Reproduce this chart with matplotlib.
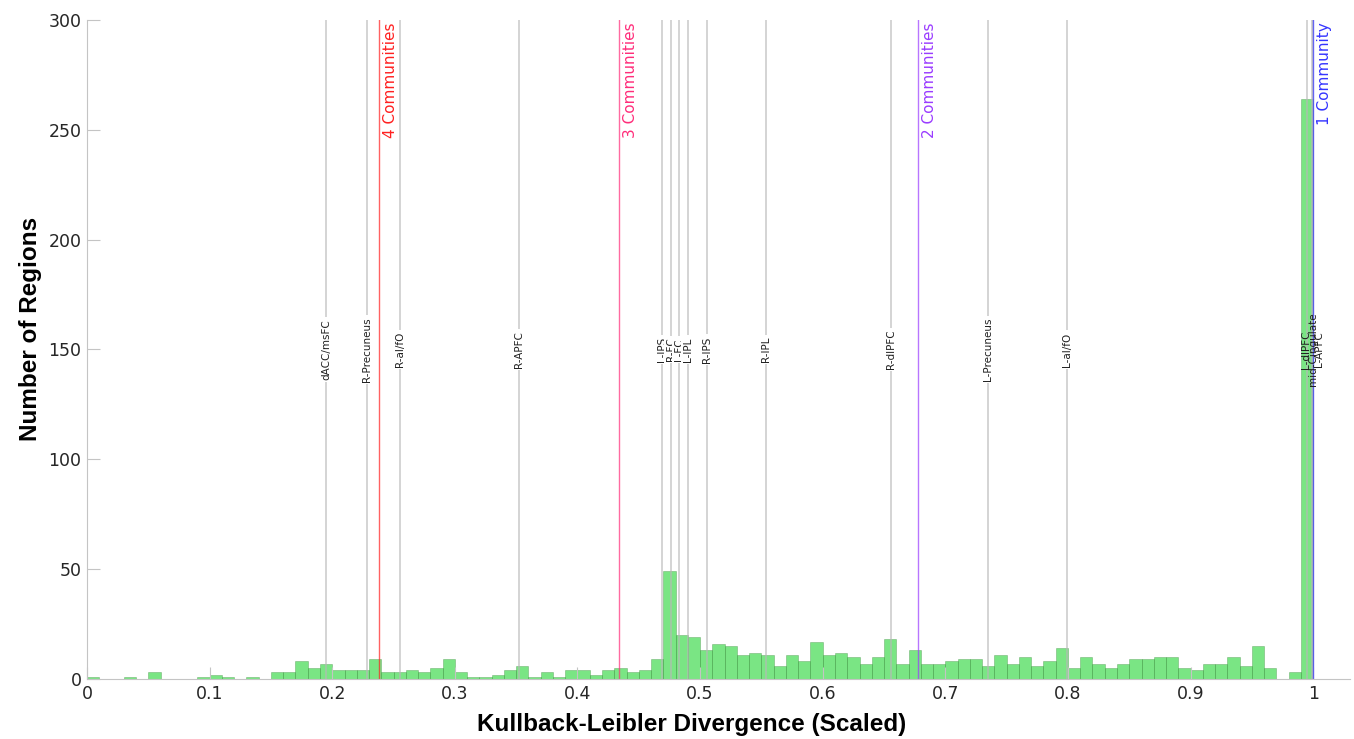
import numpy as np
import matplotlib.pyplot as plt

# histogram counts, one per 0.01-wide bin from 0 to 1
counts = [1, 0, 0, 1, 0, 3, 0, 0, 0, 1,
          2, 1, 0, 1, 0, 3, 3, 8, 5, 7,
          4, 4, 4, 9, 3, 3, 4, 3, 5, 9,
          3, 1, 1, 2, 4, 6, 1, 3, 1, 4,
          4, 2, 4, 5, 3, 4, 9, 49, 20, 19,
          13, 16, 15, 11, 12, 11, 6, 11, 8, 17,
          11, 12, 10, 7, 10, 18, 7, 13, 7, 7,
          8, 9, 9, 6, 11, 7, 10, 6, 8, 14,
          5, 10, 7, 5, 7, 9, 9, 10, 10, 5,
          4, 7, 7, 10, 6, 15, 5, 0, 3, 264]
bin_edges = np.linspace(0, 1, 101)

region_names = ['dACC/msFC', 'R-Precuneus', 'R-aI/fO', 'R-APFC', 'L-IPS', 'R-FC',
                'L-FC', 'L-IPL', 'R-IPS', 'R-IPL', 'R-dlPFC', 'L-Precuneus',
                'L-aI/fO', 'L-dlPFC', 'mid-Cingulate', 'L-APFC']
region_kl = [0.195, 0.228, 0.255, 0.352, 0.469, 0.476,
             0.4825, 0.49, 0.506, 0.554, 0.656, 0.735,
             0.7995, 0.995, 0.999, 1.0]
# label offsets for the crowded ones near 1
label_shift = [0, 0, 0, 0, 0, 0, 0, 0, 0, 0, 0, 0, 0, -0.0005, 0.0005, 0.0045]

community_names = ['4 Communities', '3 Communities', '2 Communities', '1 Community']
community_kl = [0.238, 0.434, 0.678, 1.0]
community_colors = ['#ff2020', '#ff2d7a', '#9a3cff', '#3535ff']

fig = plt.figure(figsize=(13.54, 7.39), dpi=100)
ax = fig.add_axes([0.0643, 0.0812, 0.9327, 0.8918])

ax.bar(bin_edges[:-1], counts, width=0.01, align='edge',
       color=(0.05, 0.82, 0.12), alpha=0.55, edgecolor=(0.2, 0.5, 0.2), linewidth=0.4, zorder=1)

for name, x, dx in zip(region_names, region_kl, label_shift):
    ax.axvline(x, color='#b8b8b8', linewidth=1.2, alpha=0.7, zorder=2)
    box = None
    if x < 0.98:
        box = dict(facecolor='white', edgecolor='none', pad=1.5)
    ax.text(x + dx, 150, name, rotation=90, ha='center', va='center', fontsize=7.5,
            color='#202020', bbox=box, zorder=3)

for name, x, c in zip(community_names, community_kl, community_colors):
    ax.axvline(x, color=c, linewidth=1.0, alpha=0.7, zorder=2)
    ax.text(x + 0.003, 299, name, rotation=90, ha='left', va='top', fontsize=11, color=c, zorder=3)

ax.set_xlim(0, 1.03)
ax.set_ylim(0, 300)
ax.set_xticks(np.arange(0, 1.01, 0.1))
ax.set_xticklabels(['0', '0.1', '0.2', '0.3', '0.4', '0.5', '0.6', '0.7', '0.8', '0.9', '1'])
ax.set_yticks([0, 50, 100, 150, 200, 250, 300])

for s in ['top', 'right']:
    ax.spines[s].set_visible(False)
for s in ['left', 'bottom']:
    ax.spines[s].set_color('#c4c4c4')
ax.tick_params(direction='in', length=9, width=0.8, color='#c4c4c4', labelsize=12.5,
               labelcolor='#262626', pad=4)

ax.set_xlabel('Kullback-Leibler Divergence (Scaled)', fontsize=17.5, fontweight='bold',
              family='Liberation Sans')
ax.set_ylabel('Number of Regions', fontsize=17.5, fontweight='bold', family='Liberation Sans')
ax.xaxis.set_label_coords(0.479, -0.051)
ax.yaxis.set_label_coords(-0.0355, 0.531)

fig.savefig('out.png', dpi=100)
